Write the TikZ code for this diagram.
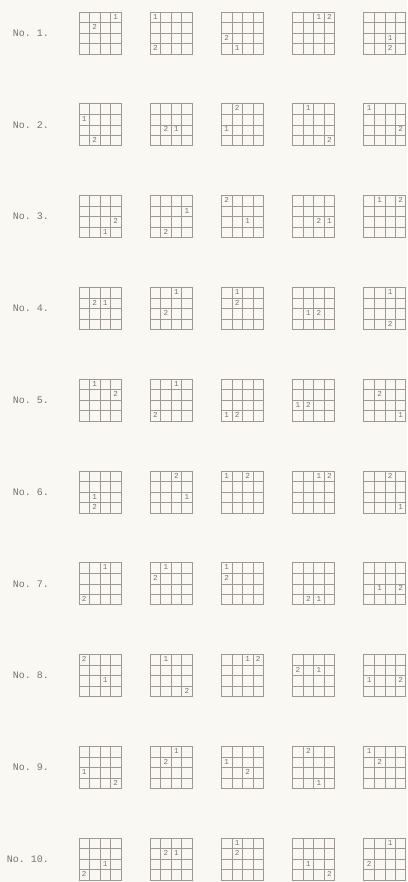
\documentclass[tikz,border=0pt]{standalone}
\usepackage{fontspec}
\setmonofont{Liberation Mono}
\definecolor{paper}{RGB}{250,248,243}
\definecolor{gridgray}{RGB}{160,152,150}
\definecolor{inkgray}{RGB}{118,116,114}
\tikzset{
  cellline/.style={draw=gridgray, line width=0.45pt},
  boxline/.style={draw=gridgray, line width=0.8pt},
  numlabel/.style={font=\ttfamily\fontsize{10}{12}\selectfont, text=inkgray, inner sep=0pt, anchor=east},
  digit/.style={font=\ttfamily\fontsize{7.6}{8}\selectfont, text=inkgray, inner sep=0pt},
}

\begin{document}
\begin{tikzpicture}[x=1pt,y=1pt]
    % Paper
    \fill[paper] (0,0) rectangle (407,-882);
    \useasboundingbox (0,0) rectangle (407,-882);

    % Each row: position of the 1 and of the 2 (row/col) in five boards
    \foreach \r/\data in {
        1/{1/4/2/2, 1/1/4/1, 4/2/3/1, 1/3/1/4, 3/3/4/3},
        2/{2/1/4/2, 3/3/3/2, 3/1/1/2, 1/2/4/4, 1/1/3/4},
        3/{4/3/3/4, 2/4/4/2, 3/3/1/1, 3/4/3/3, 1/2/1/4},
        4/{2/3/2/2, 1/3/3/2, 1/2/2/2, 3/2/3/3, 1/3/4/3},
        5/{1/2/2/4, 1/3/4/1, 4/1/4/2, 3/1/3/2, 4/4/2/2},
        6/{3/2/4/2, 3/4/1/3, 1/1/1/3, 1/3/1/4, 4/4/1/3},
        7/{1/3/4/1, 1/2/2/1, 1/1/2/1, 4/3/4/2, 3/2/3/4},
        8/{3/3/1/1, 1/2/4/4, 1/3/1/4, 2/3/2/1, 3/1/3/4},
        9/{3/1/4/4, 1/3/2/2, 2/1/3/3, 4/3/1/2, 1/1/2/2},
        10/{3/3/4/1, 2/3/2/2, 1/2/2/2, 3/2/4/4, 1/3/3/1}} {
        \pgfmathsetmacro{\rowtop}{-(12+91.8*(\r-1))}
        \node[numlabel] (no\r) at (49,\rowtop-21) {No. \r.};
        \foreach \ra/\ca/\rb/\cb [count=\g] in \data {
            \pgfmathsetmacro{\gleft}{79+71.2*(\g-1)}
            % Board
            \draw[cellline] \foreach \k in {1,2,3} {
                (\gleft+10.5*\k,\rowtop) -- ++(0,-42)
                (\gleft,\rowtop-10.5*\k) -- ++(42,0)};
            \draw[boxline] (\gleft,\rowtop) rectangle ++(42,-42);
            % Digits
            \pgfmathsetmacro{\xa}{\gleft+10.5*(\ca-0.5)}
            \pgfmathsetmacro{\ya}{\rowtop-10.5*(\ra-0.5)+0.6}
            \pgfmathsetmacro{\xb}{\gleft+10.5*(\cb-0.5)}
            \pgfmathsetmacro{\yb}{\rowtop-10.5*(\rb-0.5)+0.6}
            \node[digit] (d\r-\g-one) at (\xa,\ya) {1};
            \node[digit] (d\r-\g-two) at (\xb,\yb) {2};
        }
    }
\end{tikzpicture}
\end{document}
